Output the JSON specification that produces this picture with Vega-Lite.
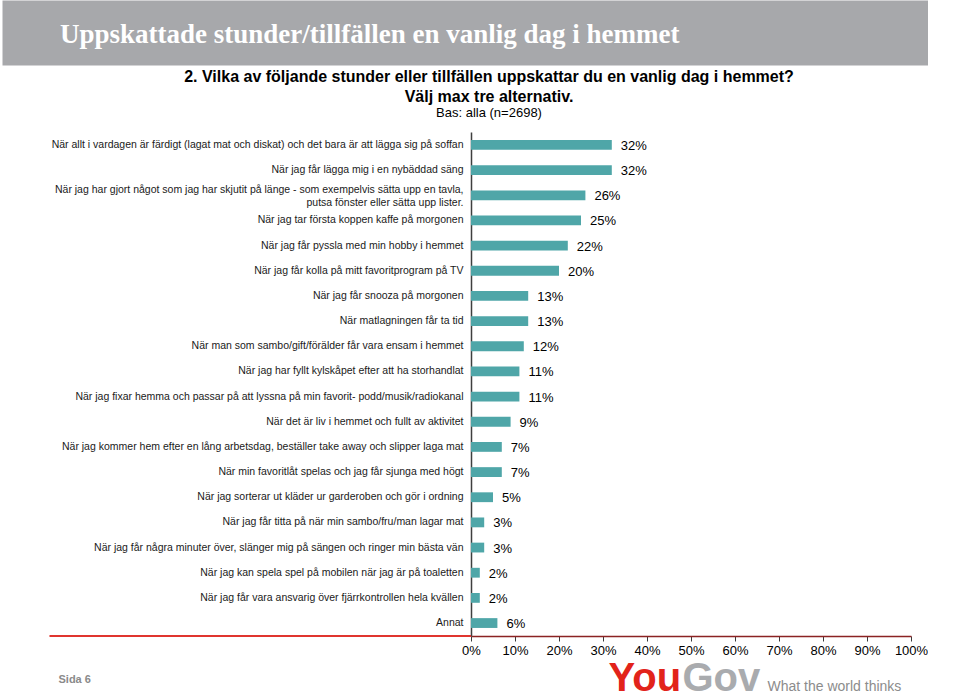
{
  "$schema": "https://vega.github.io/schema/vega-lite/v6.json",
  "padding": {"left": 2, "top": 0, "right": 0, "bottom": 0},
  "background": "white",
  "spacing": 4,
  "config": {"font": "Liberation Sans", "view": {"stroke": null}},
  "vconcat": [
    {
      "width": 440,
      "height": 65,
      "data": {"values": [{"heading": "Uppskattade stunder/tillfällen en vanlig dag i hemmet"}]},
      "mark": {"type": "text", "font": "Liberation Serif", "fontSize": 27, "fontWeight": "bold", "color": "#ffffff", "align": "left", "baseline": "alphabetic", "dx": -631, "dy": 10.5},
      "encoding": {
        "y": {
          "field": "heading",
          "type": "nominal",
          "axis": {
            "labels": false,
            "ticks": false,
            "title": null,
            "grid": false,
            "domain": true,
            "domainColor": "#a7a8ab",
            "domainWidth": 953,
            "domainCap": "butt",
            "offset": -7.5,
            "minExtent": 469,
            "maxExtent": 469
          }
        },
        "text": {"field": "heading"}
      }
    },
    {
      "width": 440,
      "height": 504,
      "title": {
        "text": ["2. Vilka av följande stunder eller tillfällen uppskattar du en vanlig dag i hemmet?", "Välj max tre alternativ."],
        "subtitle": "Bas: alla (n=2698)",
        "anchor": "middle",
        "frame": "group",
        "dx": -202,
        "font": "Liberation Sans",
        "fontSize": 16,
        "fontWeight": "bold",
        "color": "#000000",
        "lineHeight": 20,
        "subtitleFont": "Liberation Sans",
        "subtitleFontSize": 13,
        "subtitleColor": "#000000",
        "subtitlePadding": 2,
        "offset": 12
      },
      "data": {
        "values": [
          {"cat": "När allt i vardagen är färdigt (lagat mat och diskat) och det bara är att lägga sig på soffan", "share": 0.32},
          {"cat": "När jag får lägga mig i en nybäddad säng", "share": 0.32},
          {"cat": "När jag har gjort något som jag har skjutit på länge - som exempelvis sätta upp en tavla,|putsa fönster eller sätta upp lister.\u00a0\u00a0\u00a0\u00a0\u00a0\u00a0\u00a0\u00a0\u00a0\u00a0\u00a0\u00a0\u00a0\u00a0\u00a0\u00a0\u00a0\u00a0\u00a0\u00a0\u00a0\u00a0\u00a0\u00a0\u00a0\u00a0\u00a0\u00a0\u00a0\u00a0\u00a0\u00a0\u00a0\u00a0\u00a0\u00a0\u00a0\u00a0\u00a0", "share": 0.26},
          {"cat": "När jag tar första koppen kaffe på morgonen", "share": 0.25},
          {"cat": "När jag får pyssla med min hobby i hemmet", "share": 0.22},
          {"cat": "När jag får kolla på mitt favoritprogram på TV", "share": 0.20},
          {"cat": "När jag får snooza på morgonen", "share": 0.13},
          {"cat": "När matlagningen får ta tid", "share": 0.13},
          {"cat": "När man som sambo/gift/förälder får vara ensam i hemmet", "share": 0.12},
          {"cat": "När jag har fyllt kylskåpet efter att ha storhandlat", "share": 0.11},
          {"cat": "När jag fixar hemma och passar på att lyssna på min favorit- podd/musik/radiokanal", "share": 0.11},
          {"cat": "När det är liv i hemmet och fullt av aktivitet", "share": 0.09},
          {"cat": "När jag kommer hem efter en lång arbetsdag, beställer take away och slipper laga mat", "share": 0.07},
          {"cat": "När min favoritlåt spelas och jag får sjunga med högt", "share": 0.07},
          {"cat": "När jag sorterar ut kläder ur garderoben och gör i ordning", "share": 0.05},
          {"cat": "När jag får titta på när min sambo/fru/man lagar mat", "share": 0.03},
          {"cat": "När jag får några minuter över, slänger mig på sängen och ringer min bästa vän", "share": 0.03},
          {"cat": "När jag kan spela spel på mobilen när jag är på toaletten", "share": 0.02},
          {"cat": "När jag får vara ansvarig över fjärrkontrollen hela kvällen", "share": 0.02},
          {"cat": "Annat", "share": 0.06}
        ]
      },
      "layer": [
        {
          "mark": {"type": "bar", "color": "#4fa6a8"},
          "encoding": {
            "x": {
              "field": "share",
              "type": "quantitative",
              "scale": {"domain": [0, 1]},
              "axis": {
                "values": [0, 0.1, 0.2, 0.3, 0.4, 0.5, 0.6, 0.7, 0.8, 0.9, 1],
                "format": ".0%",
                "labelFontSize": 13,
                "labelColor": "#000000",
                "labelPadding": 3,
                "labelFlush": false,
                "tickSize": 5,
                "tickColor": "#3a3a3a",
                "domainColor": "#8b2323",
                "domainWidth": 1.5,
                "grid": false,
                "title": "You",
                "titleX": 137,
                "titleY": 54,
                "titleAngle": 0,
                "titleAlign": "left",
                "titleBaseline": "alphabetic",
                "titleFontSize": 40,
                "titleFontWeight": "bold",
                "titleColor": "#e2231a"
              }
            },
            "y": {
              "field": "cat",
              "type": "nominal",
              "sort": null,
              "scale": {"paddingInner": 0.61, "paddingOuter": 0.32},
              "axis": {
                "labelExpr": "split(datum.label, '|')",
                "labelFontSize": 10.5,
                "labelColor": "#1a1a1a",
                "labelLimit": 600,
                "labelPadding": 8,
                "labelLineHeight": 13,
                "labelOffset": {"condition": {"test": "indexof(datum.label, '|') >= 0", "value": -5}, "value": 0},
                "ticks": false,
                "tickSize": 0,
                "domainColor": "#3f3f3f",
                "domainWidth": 1.5,
                "minExtent": 469,
                "maxExtent": 469,
                "title": "Sida 6",
                "titleX": -413,
                "titleY": 550,
                "titleAngle": 0,
                "titleAlign": "left",
                "titleBaseline": "alphabetic",
                "titleFontSize": 11,
                "titleFontWeight": "bold",
                "titleColor": "#8a8a8a"
              }
            }
          }
        },
        {
          "mark": {"type": "text", "align": "left", "baseline": "middle", "dx": 9, "dy": 1, "fontSize": 13, "color": "#000000"},
          "encoding": {
            "x": {
              "field": "share",
              "type": "quantitative",
              "axis": {
                "orient": "bottom",
                "labels": false,
                "ticks": false,
                "domain": false,
                "grid": false,
                "title": "Gov",
                "titleX": 211,
                "titleY": 54,
                "titleAngle": 0,
                "titleAlign": "left",
                "titleBaseline": "alphabetic",
                "titleFontSize": 40,
                "titleFontWeight": "bold",
                "titleColor": "#a9abae"
              }
            },
            "y": {
              "field": "cat",
              "type": "nominal",
              "sort": null,
              "axis": {
                "orient": "right",
                "labels": false,
                "ticks": false,
                "domain": false,
                "grid": false,
                "minExtent": 0,
                "maxExtent": 0,
                "title": "What the world thinks",
                "titleX": -144,
                "titleY": 558,
                "titleAngle": 0,
                "titleAlign": "left",
                "titleBaseline": "alphabetic",
                "titleFontSize": 14,
                "titleFontWeight": "normal",
                "titleColor": "#8c8c8c"
              }
            },
            "text": {"field": "share", "type": "quantitative", "format": ".0%"}
          }
        },
        {
          "data": {"values": [{"line": "base"}]},
          "mark": {"type": "rule", "color": "#e0352f", "strokeWidth": 2},
          "encoding": {
            "x": {"datum": -0.958, "type": "quantitative", "axis": null},
            "x2": {"datum": 0},
            "y": {"value": "height"}
          }
        }
      ],
      "resolve": {"axis": {"x": "independent", "y": "independent"}}
    }
  ]
}
